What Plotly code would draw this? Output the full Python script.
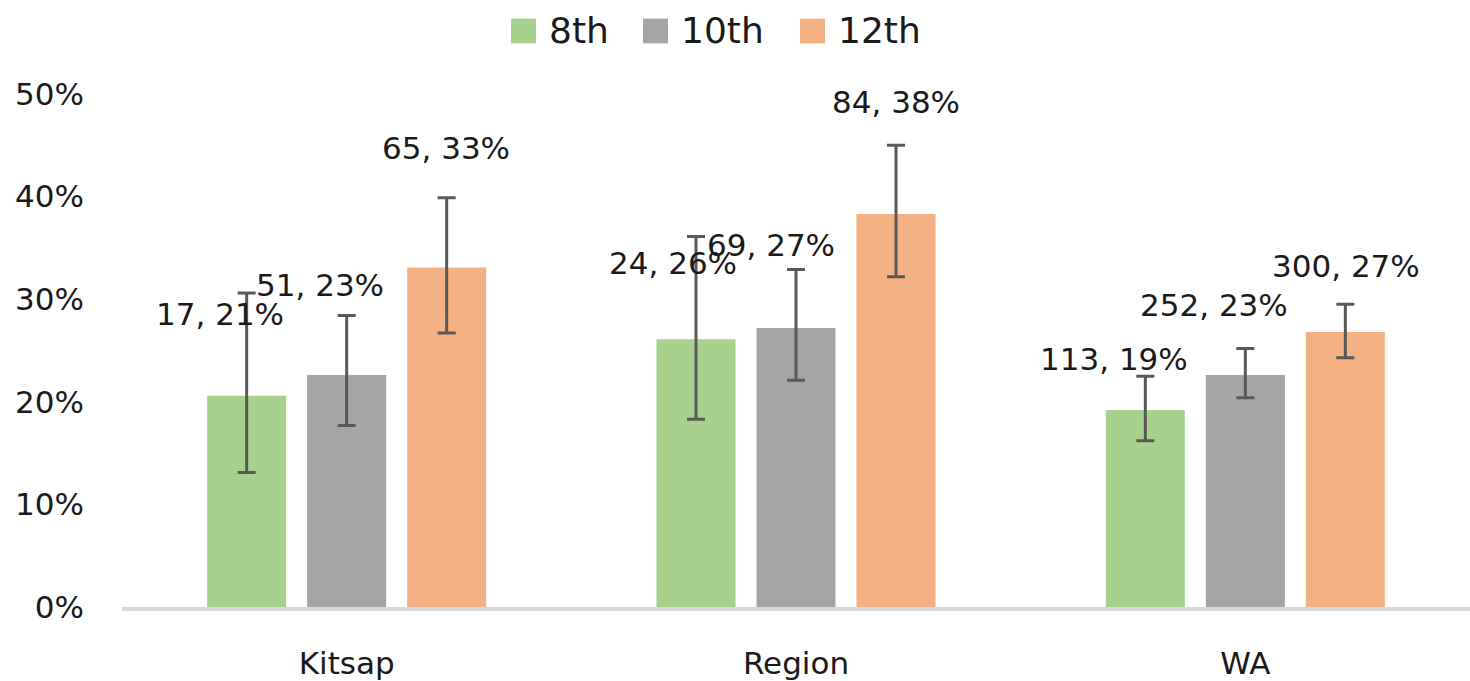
import plotly.graph_objects as go

# ---------------- data ----------------
categories = ["Kitsap", "Region", "WA"]
series_names = ["8th", "10th", "12th"]

pct_8th = [0.206, 0.261, 0.192]
pct_10th = [0.226, 0.272, 0.226]
pct_12th = [0.331, 0.383, 0.268]

low_8th = [0.131, 0.183, 0.162]
low_10th = [0.177, 0.221, 0.204]
low_12th = [0.267, 0.322, 0.243]

high_8th = [0.306, 0.361, 0.225]
high_10th = [0.284, 0.329, 0.252]
high_12th = [0.399, 0.450, 0.295]

n_8th = [17, 24, 113]
n_10th = [51, 69, 252]
n_12th = [65, 84, 300]

y_ticks = [0, 0.1, 0.2, 0.3, 0.4, 0.5]

# ---------------- style ----------------
colors = ["#A9D18E", "#A5A5A5", "#F4B183"]
FONT = "DejaVu Sans"
TXT = "#1a1a1a"
W, H = 1470, 681
ML, MR, MT, MB = 122, 0, 94, 70
PW = W - ML - MR
PH = H - MT - MB

# per-label pixel offsets (dx, dy) relative to the bar centre / bar top
label_offsets = [
    [(-27, 82), (-23, 76), (-31, 51)],
    [(-27, 90), (-25, 83), (-31, 70)],
    [(-1, 119), (0, 112), (1, 66)],
]
bar_slot = 100  # px between bar centres within a group

pcts = [pct_8th, pct_10th, pct_12th]
lows = [low_8th, low_10th, low_12th]
highs = [high_8th, high_10th, high_12th]
ns = [n_8th, n_10th, n_12th]

fig = go.Figure()
for i, name in enumerate(series_names):
    vals = pcts[i]
    fig.add_trace(go.Bar(
        name=name, x=categories, y=vals,
        marker=dict(color=colors[i], line=dict(width=0)),
        error_y=dict(
            type="data", symmetric=False,
            array=[h - v for h, v in zip(highs[i], vals)],
            arrayminus=[v - l for v, l in zip(vals, lows[i])],
            color="#595959", thickness=3, width=9,
        ),
        showlegend=False,
    ))

# data labels
for i in range(3):
    for j, cat in enumerate(categories):
        dx, dy = label_offsets[i][j]
        fig.add_annotation(
            x=cat, y=pcts[i][j], xref="x", yref="y",
            text=f"{ns[i][j]}, {round(pcts[i][j] * 100)}%",
            showarrow=False, xanchor="center", yanchor="middle",
            xshift=(i - 1) * bar_slot + dx, yshift=dy,
            font=dict(family=FONT, size=31, color=TXT),
        )

# manual legend (squares + text) placed in paper coordinates
def px_x(px):
    return (px - ML) / PW

def px_y(py):
    return (H - MB - py) / PH

legend_sq_left = [511, 643, 800]
for i, name in enumerate(series_names):
    x0 = legend_sq_left[i]
    fig.add_shape(type="rect", xref="paper", yref="paper",
                  x0=px_x(x0), x1=px_x(x0 + 25), y0=px_y(43), y1=px_y(18),
                  fillcolor=colors[i], line=dict(width=0))
    fig.add_annotation(x=px_x(x0 + 36), y=px_y(30), xref="paper", yref="paper",
                       text=name, showarrow=False, xanchor="left", yanchor="middle",
                       font=dict(family=FONT, size=36, color=TXT))

fig.update_layout(
    width=W, height=H,
    margin=dict(l=ML, r=MR, t=MT, b=MB, pad=0),
    paper_bgcolor="white", plot_bgcolor="white",
    barmode="group", bargap=0.3323, bargroupgap=0.21,
    showlegend=False,
    font=dict(family=FONT, size=31, color=TXT),
)
fig.update_xaxes(
    showline=True, linecolor="#D9D9D9", linewidth=4,
    showgrid=False, zeroline=False, ticks="",
    tickfont=dict(family=FONT, size=31, color=TXT),
    ticklabelstandoff=26,
)
fig.update_yaxes(
    range=[0, 0.5], tickvals=y_ticks, tickformat=".0%",
    showgrid=False, zeroline=False, showline=False, ticks="",
    tickfont=dict(family=FONT, size=31, color=TXT),
    ticklabelstandoff=37,
)

fig.write_html("out.html",
               config={"displayModeBar": False},
               post_script="document.body.style.margin='0px';document.body.style.overflow='hidden';")
